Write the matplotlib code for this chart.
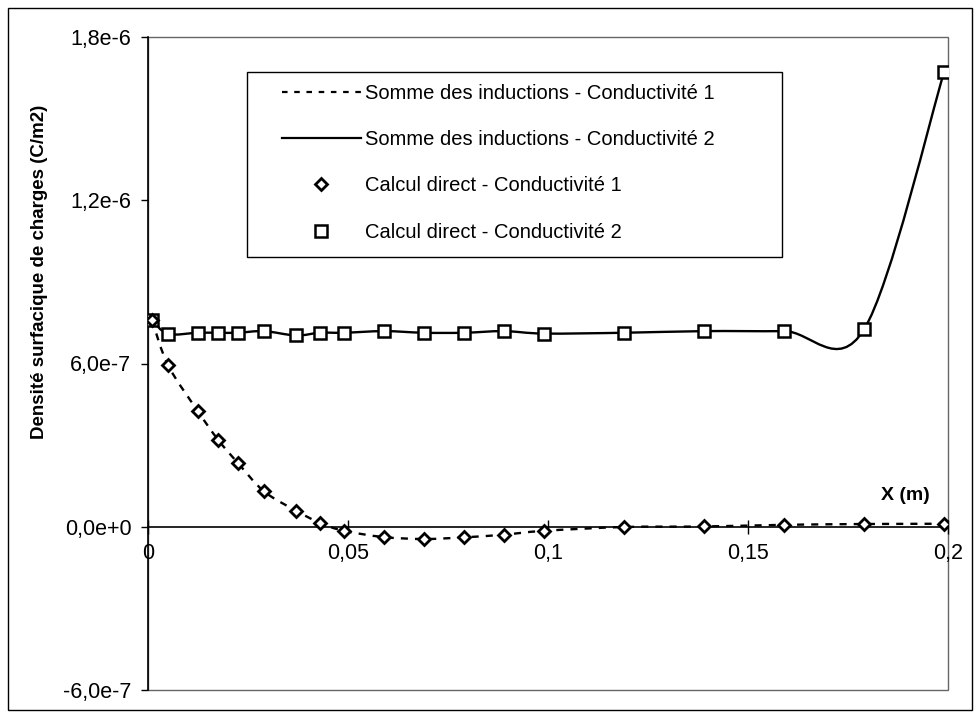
import numpy as np
import matplotlib
matplotlib.use("Agg")
import matplotlib.pyplot as plt
from matplotlib.path import Path
from matplotlib.patches import PathPatch, Rectangle
from matplotlib.lines import Line2D

plt.rcParams['font.family'] = ['Liberation Sans', 'DejaVu Sans']

# positions (m)
x = [0.001, 0.005, 0.0125, 0.0175, 0.0225, 0.029, 0.037, 0.043, 0.049, 0.059,
     0.069, 0.079, 0.089, 0.099, 0.119, 0.139, 0.159, 0.179, 0.199]
# charge density, conductivite 1 and 2 (C/m2)
cond1 = [7.6e-7, 5.94e-7, 4.24e-7, 3.2e-7, 2.34e-7, 1.3e-7, 0.59e-7, 0.14e-7, -0.15e-7, -0.38e-7,
         -0.45e-7, -0.39e-7, -0.29e-7, -0.15e-7, -0.01e-7, 0.01e-7, 0.07e-7, 0.1e-7, 0.11e-7]
cond2 = [7.6e-7, 7.09e-7, 7.13e-7, 7.13e-7, 7.13e-7, 7.19e-7, 7.03e-7, 7.13e-7, 7.13e-7, 7.19e-7,
         7.13e-7, 7.13e-7, 7.19e-7, 7.1e-7, 7.13e-7, 7.19e-7, 7.19e-7, 7.25e-7, 16.7e-7]

yticks = [-6e-7, 0, 6e-7, 1.2e-6, 1.8e-6]
ytick_labels = ["-6,0e-7", "0,0e+0", "6,0e-7", "1,2e-6", "1,8e-6"]
xticks = [0, 0.05, 0.1, 0.15, 0.2]
xtick_labels = ["0", "0,05", "0,1", "0,15", "0,2"]

labels = ["Somme des inductions - Conductivité 1",
          "Somme des inductions - Conductivité 2",
          "Calcul direct - Conductivité 1",
          "Calcul direct - Conductivité 2"]


def smooth_path(xs, ys):
    # excel-like smoothed line (catmull-rom as cubic bezier)
    p = np.column_stack([xs, ys])
    pts = np.vstack([p[0], p, p[-1]])
    verts = [p[0]]
    codes = [Path.MOVETO]
    for i in range(1, len(pts) - 2):
        c1 = pts[i] + (pts[i + 1] - pts[i - 1]) / 6
        c2 = pts[i + 1] - (pts[i + 2] - pts[i]) / 6
        verts += [c1, c2, pts[i + 1]]
        codes += [Path.CURVE4] * 3
    return Path(verts, codes)


fig = plt.figure(figsize=(9.74, 7.12), dpi=100)
W, H = 974, 712
ax = fig.add_axes([148 / W, 1 - 690 / H, 800 / W, 653 / H])
ax.set_xlim(0, 0.2)
ax.set_ylim(-6e-7, 1.8e-6)

ax.add_patch(PathPatch(smooth_path(x, cond1), fill=False, color='black',
                       lw=1.7, linestyle=(0, (3, 3)), zorder=3))
ax.add_patch(PathPatch(smooth_path(x, cond2), fill=False, color='black',
                       lw=1.7, zorder=3))
ax.plot(x, cond2, linestyle='none', marker='s', ms=8.5, mfc='white', mec='black', mew=1.8, zorder=4)
ax.plot(x, cond1, linestyle='none', marker='D', ms=6.5, mfc='white', mec='black', mew=2, zorder=5)

# spines: left black, x axis at zero, grey plot-area border
ax.spines['top'].set_visible(False)
ax.spines['right'].set_visible(False)
ax.spines['bottom'].set_position(('data', 0))
ax.spines['left'].set_linewidth(1.2)
ax.spines['bottom'].set_linewidth(1.2)
ax.add_patch(Rectangle((0, 0), 1, 1, transform=ax.transAxes, fill=False,
                       edgecolor='#666666', lw=1.0, clip_on=False, zorder=1))

ax.set_yticks(yticks)
ax.set_yticklabels(ytick_labels)
ax.set_xticks(xticks)
ax.set_xticklabels(xtick_labels)
ax.tick_params(axis='y', direction='out', length=5, width=1, pad=7, labelsize=15.5)
ax.tick_params(axis='x', direction='inout', length=10, width=1, pad=7, labelsize=15.5)

fig.text(40 / W, 1 - 272 / H, "Densité surfacique de charges (C/m2)", rotation=90,
         ha='center', va='center', fontsize=13.5, fontweight='bold')
fig.text(905 / W, 1 - 495 / H, "X (m)", ha='center', va='center',
         fontsize=14, fontweight='bold')

# legend with its own frame
fig.patches.append(Rectangle((247 / W, 1 - 257 / H), 535 / W, 185 / H, transform=fig.transFigure,
                             fill=False, edgecolor='black', lw=1.0, zorder=10))
handles = [Line2D([], [], color='black', lw=1.6, linestyle=(0, (2.5, 3))),
           Line2D([], [], color='black', lw=1.6),
           Line2D([], [], linestyle='none', marker='D', ms=6.5, mfc='white', mec='black', mew=2),
           Line2D([], [], linestyle='none', marker='s', ms=8.5, mfc='white', mec='black', mew=1.8)]
fig.legend(handles, labels, loc='upper left', bbox_to_anchor=(282 / W, 1 - 84 / H),
           frameon=False, fontsize=14.5, handlelength=3.9, handletextpad=0.2,
           labelspacing=1.35, borderpad=0, borderaxespad=0)

# outer border
fig.patches.append(Rectangle((8 / W, 2 / H), 964 / W, 702 / H, transform=fig.transFigure,
                             fill=False, edgecolor='black', lw=1.0))

fig.savefig("out.png", dpi=100)
